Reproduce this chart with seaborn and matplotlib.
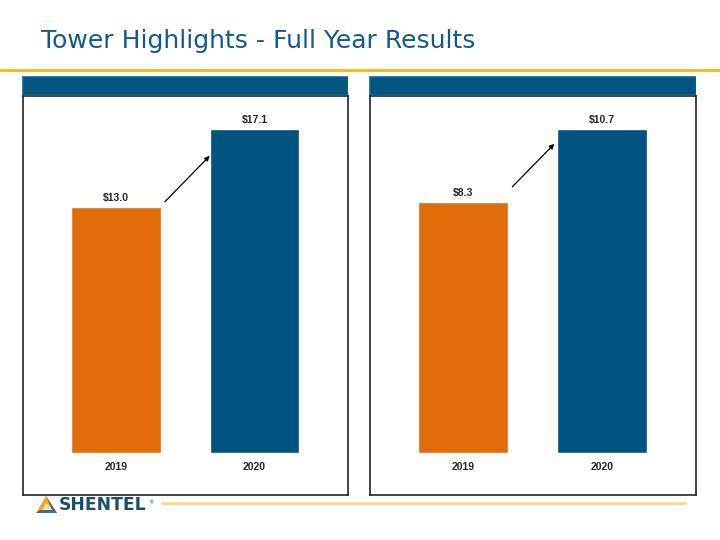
''' Tower highlights - full year results, two bar panels. '''

import numpy as np
import seaborn as sb
import matplotlib.pyplot as plt
from matplotlib.patches import Rectangle, Polygon

years = ["2019", "2020"]
left_values = [13.0, 17.1]
right_values = [8.3, 10.7]
left_labels = ["$13.0", "$17.1"]
right_labels = ["$8.3", "$10.7"]

ORANGE = "#E36C0A"
BLUE = "#00537E"
TITLE_BLUE = "#115B8C"

sb.set_style("white")
plt.rcParams['font.family'] = ['DejaVu Sans']

W, H = 720, 540
fig = plt.figure(figsize=(7.2, 5.4), dpi=100)


def px_axes(x0, y0, x1, y1):
    # axes from pixel box (top-left origin)
    return fig.add_axes([x0 / W, 1 - y1 / H, (x1 - x0) / W, (y1 - y0) / H])


# title and rules
fig.text(41 / W, 1 - 41 / H, "Tower Highlights - Full Year Results",
         color=TITLE_BLUE, fontsize=18, va="center", ha="left")
fig.add_artist(plt.Line2D([0, 1], [1 - 70 / H] * 2, color="#F6B80F", lw=2))
fig.add_artist(plt.Line2D([162 / W, 685 / W], [1 - 503 / H] * 2, color="#FFD97A", lw=2))


def panel(x0, x1, values, labels, arrow_start, arrow_end):
    # header bar
    hdr = px_axes(x0, 76, x1, 95)
    hdr.set_axis_off()
    hdr.add_patch(Rectangle((0, 0), 1, 1, transform=hdr.transAxes,
                            facecolor="#02557F", edgecolor="#2C86B8", lw=1))

    ax = px_axes(x0 + 1, 96, x1, 495)
    vmax = max(values)
    ax.set_ylim(-vmax * 42 / 325, vmax * 358 / 325)
    sb.barplot(x=years, y=values, hue=years, palette=[ORANGE, BLUE],
               width=0.647, legend=False, ax=ax, saturation=1)
    ax.set_xlim(-0.672, 1.675)
    ax.set_xticks([])
    ax.set_yticks([])
    ax.set_xlabel("")
    ax.set_ylabel("")
    for s in ax.spines.values():
        s.set_visible(True)
        s.set_color("#222222")
        s.set_linewidth(1.2)

    per_px = vmax / 325
    for i, (v, lab) in enumerate(zip(values, labels)):
        ax.text(i, v + 4 * per_px, lab, ha="center", va="bottom",
                fontsize=7.5, fontweight="bold", family="Liberation Sans")
        ax.text(i, -14 * per_px, years[i], ha="center", va="center",
                fontsize=7.5, fontweight="bold", family="Liberation Sans")
    # growth arrow (offsets in pixels below the 2020 bar top)
    ax.annotate("", xy=(arrow_end[0], values[1] - arrow_end[1] * per_px),
                xytext=(arrow_start[0], values[1] - arrow_start[1] * per_px),
                arrowprops=dict(arrowstyle="-|>", color="black", lw=0.9,
                                mutation_scale=7, shrinkA=0, shrinkB=0))


panel(22, 348, left_values, left_labels, (0.353, 73), (0.676, 27))
panel(369, 696, right_values, right_labels, (0.353, 58), (0.655, 15))

# footer logo
logo = px_axes(34, 494, 160, 516)
logo.set_axis_off()
logo.set_xlim(34, 160)
logo.set_ylim(516, 494)
logo.add_patch(Polygon([[36, 513], [46, 496], [57, 513]], closed=True,
                       facecolor="#F5A623", edgecolor="none"))
logo.add_patch(Polygon([[40, 513], [46, 503], [57, 513]], closed=True,
                       facecolor="#FCE29A", edgecolor="none"))
logo.add_patch(Polygon([[46, 496], [57, 513], [36, 513], [40, 510], [52, 510]], closed=True,
                       facecolor="#1F5E8C", edgecolor="none", alpha=0.85))
brand = logo.text(59, 505, "SHENTEL", color="#1B4E73", fontsize=12.3, fontweight="bold",
                  va="center", ha="left", family="DejaVu Sans")
logo.annotate("®", xy=(1, 1), xycoords=brand, xytext=(1, -3), textcoords="offset points",
              color="#1B4E73", fontsize=4, va="top", ha="left")

fig.savefig("out.png", dpi=100)
